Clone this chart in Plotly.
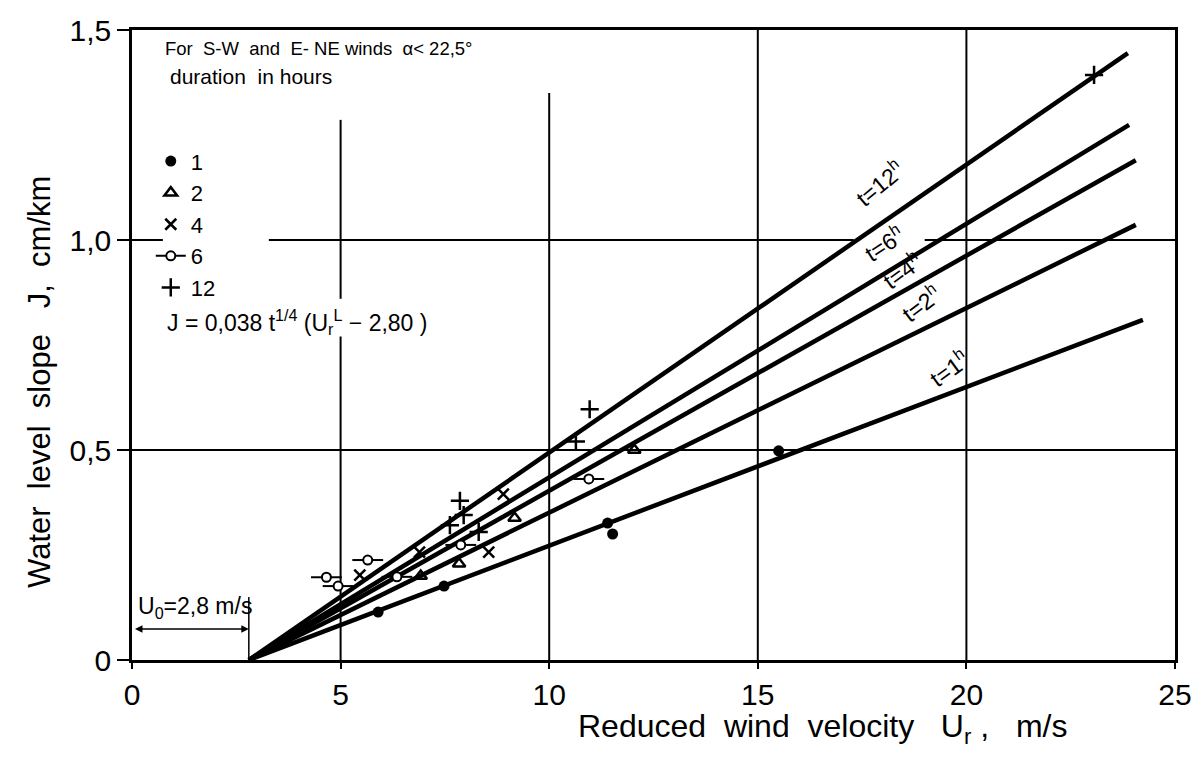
import plotly.graph_objects as go

FONT = "Liberation Sans, Arial, sans-serif"

# ---- data ----
t1_x = [5.9, 7.48, 11.4, 11.52, 15.5]
t1_y = [0.114, 0.176, 0.326, 0.300, 0.498]

t2_x = [6.92, 7.84, 9.17, 12.04]
t2_y = [0.200, 0.229, 0.338, 0.500]

t4_x = [5.46, 6.89, 8.55, 8.90]
t4_y = [0.202, 0.257, 0.257, 0.395]

t6_x = [4.66, 4.94, 5.65, 6.35, 7.88, 10.95]
t6_y = [0.197, 0.176, 0.238, 0.198, 0.274, 0.431]

t12_x = [7.62, 7.86, 7.95, 8.31, 10.64, 10.97, 23.06]
t12_y = [0.321, 0.379, 0.345, 0.305, 0.520, 0.597, 1.393]

line_names = ["t=1", "t=2", "t=4", "t=6", "t=12"]
line_x0 = 2.8
line_end_x = [24.23, 24.06, 24.06, 23.90, 23.87]
line_end_y = [0.810, 1.036, 1.190, 1.274, 1.445]

line_labels = ["t=1<sup>h</sup>", "t=2<sup>h</sup>", "t=4<sup>h</sup>", "t=6<sup>h</sup>", "t=12<sup>h</sup>"]
label_x = [19.58, 18.91, 18.46, 18.03, 17.91]
label_y = [0.695, 0.850, 0.929, 0.993, 1.136]
label_angle = [-36, -37, -36, -33, -40]

x_ticks = [0, 5, 10, 15, 20, 25]
x_ticktext = ["0", "5", "10", "15", "20", "25"]
y_ticks = [0, 0.5, 1.0, 1.5]
y_ticktext = ["0", "0,5", "1,0", "1,5"]

legend_names = ["1", "2", "4", "6", "12"]

def with_gaps(xs, ys):
    gx, gy = [], []
    for a, b in zip(xs, ys):
        gx += [a, None]
        gy += [b, None]
    return gx, gy

fig = go.Figure()

# fitted lines
for i in range(len(line_names)):
    fig.add_trace(go.Scatter(x=[line_x0, line_end_x[i]], y=[0, line_end_y[i]], mode="lines",
                             line=dict(color="black", width=4.5), showlegend=False, hoverinfo="skip"))

# 6h horizontal dashes behind circles
fig.add_trace(go.Scatter(x=t6_x, y=t6_y, mode="markers", showlegend=False,
                         marker=dict(symbol="line-ew", size=22, line=dict(color="black", width=2))))

# points
fig.add_trace(go.Scatter(x=t1_x, y=t1_y, mode="markers", name=legend_names[0],
                         marker=dict(symbol="circle", size=11, color="black")))
fig.add_trace(go.Scatter(x=t2_x, y=t2_y, mode="markers", name=legend_names[1],
                         marker=dict(symbol="triangle-up-open", size=11, color="black", line=dict(width=2.5))))
fig.add_trace(go.Scatter(x=t4_x, y=t4_y, mode="markers", name=legend_names[2],
                         marker=dict(symbol="x-thin-open", size=11, color="black", line=dict(width=2.5))))
g6x, g6y = with_gaps(t6_x, t6_y)
fig.add_trace(go.Scatter(x=g6x, y=g6y, mode="lines+markers", name=legend_names[3], connectgaps=False,
                         line=dict(color="black", width=2),
                         marker=dict(symbol="circle", size=9, color="white", line=dict(color="black", width=2))))
fig.add_trace(go.Scatter(x=t12_x, y=t12_y, mode="markers", name=legend_names[4],
                         marker=dict(symbol="cross-thin-open", size=13, color="black", line=dict(width=2.5))))

# grid lines (hand-drawn style with breaks)
grid_segments = [
    (5, 0, 5, 0.77), (5, 0.86, 5, 1.286),
    (10, 0, 10, 1.35), (15, 0, 15, 1.5), (20, 0, 20, 1.5),
    (0, 0.5, 25, 0.5),
    (0, 1.0, 0.74, 1.0), (3.28, 1.0, 17.3, 1.0), (19.0, 1.0, 25, 1.0),
]
shapes = []
for x0, y0, x1, y1 in grid_segments:
    shapes.append(dict(type="line", xref="x", yref="y", x0=x0, y0=y0, x1=x1, y1=y1,
                       line=dict(color="black", width=2), layer="below"))
# U0 dimension helper line
shapes.append(dict(type="line", xref="x", yref="y", x0=2.8, y0=0, x1=2.8, y1=0.15,
                   line=dict(color="black", width=1.5)))

annotations = []
for i in range(len(line_labels)):
    annotations.append(dict(x=label_x[i], y=label_y[i], xref="x", yref="y", text=line_labels[i],
                            showarrow=False, textangle=label_angle[i], xanchor="center", yanchor="middle",
                            font=dict(family=FONT, size=23, color="black")))

annotations += [
    dict(x=0.74, y=1.457, xref="x", yref="y", xanchor="left", yanchor="middle", showarrow=False,
         text="For  S-W  and  E- NE winds  α< 22,5°", font=dict(family=FONT, size=18.5, color="black")),
    dict(x=0.86, y=1.39, xref="x", yref="y", xanchor="left", yanchor="middle", showarrow=False,
         text="duration  in hours", font=dict(family=FONT, size=21, color="black")),
    dict(x=0.78, y=0.805, xref="x", yref="y", xanchor="left", yanchor="middle", showarrow=False,
         text="J = 0,038 t<sup>1/4</sup> (U<sub>r</sub><sup>L</sup> − 2,80 )",
         font=dict(family=FONT, size=23, color="black")),
    dict(x=0.1, y=0.124, xref="x", yref="y", xanchor="left", yanchor="middle", showarrow=False,
         text="U<sub>0</sub>=2,8 m/s", font=dict(family=FONT, size=23, color="black")),
    dict(x=2.8, y=0.074, ax=0, ay=0.074, xref="x", yref="y", axref="x", ayref="y",
         text=" ", showarrow=True, arrowhead=2, arrowside="end+start", arrowwidth=1.5, arrowsize=1,
         arrowcolor="black"),
    dict(x=-0.0894, y=0.441, xref="paper", yref="paper", textangle=-90, showarrow=False,
         xanchor="center", yanchor="middle",
         text="Water  level  slope   J,  cm/km", font=dict(family=FONT, size=31, color="black")),
    dict(x=0.662, y=-0.108, xref="paper", yref="paper", showarrow=False, xanchor="center", yanchor="middle",
         text="Reduced  wind  velocity   U<sub>r</sub> ,   m/s", font=dict(family=FONT, size=32, color="black")),
]

fig.update_layout(
    width=1204, height=762,
    margin=dict(l=132, r=21, t=30, b=102),
    plot_bgcolor="white", paper_bgcolor="white",
    font=dict(family=FONT, color="black"),
    showlegend=True,
    legend=dict(x=0.018, y=0.825, xanchor="left", yanchor="top", bgcolor="rgba(0,0,0,0)",
                font=dict(family=FONT, size=22, color="black"), itemwidth=30, tracegroupgap=0),
    shapes=shapes, annotations=annotations,
)
fig.update_xaxes(range=[0, 25], tickvals=x_ticks, ticktext=x_ticktext, showgrid=False, zeroline=False,
                 showline=True, linecolor="black", linewidth=2.5, mirror=True,
                 ticks="outside", ticklen=6, tickwidth=2, tickcolor="black",
                 tickfont=dict(family=FONT, size=30, color="black"))
fig.update_yaxes(range=[0, 1.5], tickvals=y_ticks, ticktext=y_ticktext, showgrid=False, zeroline=False,
                 showline=True, linecolor="black", linewidth=2.5, mirror=True,
                 ticks="outside", ticklen=12, tickwidth=2, tickcolor="black",
                 tickfont=dict(family=FONT, size=30, color="black"))

fig.write_html("out.html")
